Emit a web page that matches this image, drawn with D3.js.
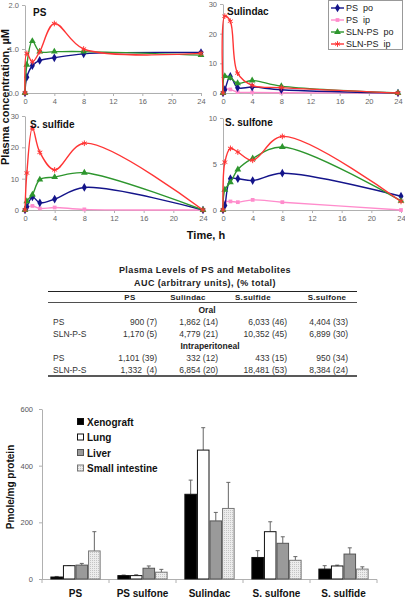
<!DOCTYPE html>
<html><head><meta charset="utf-8">
<script src="https://cdn.jsdelivr.net/npm/d3@7"></script>
<style>
html,body{margin:0;padding:0;background:#fff;}
svg{display:block;font-family:"Liberation Sans",Arial,sans-serif;}
</style></head>
<body><svg id="c" width="405" height="599"></svg>
<script>
// ---------- DATA ----------
const times = [0, 0.25, 1, 2, 4, 8, 24];
const seriesNames = ["PS  po", "PS  ip", "SLN-PS  po", "SLN-PS  ip"];
const xTicks = [0, 4, 8, 12, 16, 20, 24];
// Panel PS
const psPSpo   = [0, 0.36, 0.62, 0.74, 0.80, 0.89, 0.92];
const psPSip   = null;
const psSLNpo  = [0, 0.64, 1.18, 0.94, 0.94, 0.94, 0.86];
const psSLNip  = [0, 0.90, 0.71, 0.94, 1.58, 1.00, 0.90];
// Panel Sulindac
const suPSpo   = [0, 1.1, 5.6, 1.8, 2.0, 1.1, 0];
const suPSip   = [0, 1.4, 1.2, 0.3, 0.2, 0.1, 0];
const suSLNpo  = [0, 5.7, 5.1, 3.3, 4.2, 2.3, 0];
const suSLNip  = [0, 25.9, 24.2, 6.7, 2.6, 1.8, 0];
// Panel S. sulfide
const sdPSpo   = [0, 1.0, 4.2, 2.3, 3.5, 7.2, 0];
const sdPSip   = [0, 0.8, 1.3, 0.5, 0.8, 0.2, 0];
const sdSLNpo  = [0, 2.8, 4.9, 9.7, 10.5, 11.9, 0];
const sdSLNip  = [0, 11.8, 26.2, 18.4, 12.8, 21.3, 0];
// Panel S. sulfone
const snPSpo   = [0, 0.5, 3.4, 3.4, 3.2, 4.0, 1.5];
const snPSip   = [0, 0.85, 0.93, 0.85, 1.1, 0.85, 0];
const snSLNpo  = [0, 2.2, 3.0, 4.4, 5.6, 6.85, 1.0];
const snSLNip  = [0, 5.2, 6.7, 6.3, 5.4, 8.0, 0.93];
const panelTitles = ["PS", "Sulindac", "S. sulfide", "S. sulfone"];
const panelYTicks = [[0, 1, 2], [0, 10, 20, 30], [0, 10, 20, 30], [0, 5, 10]];

// Table
const tableTitle = "Plasma Levels of PS and Metabolites";
const tableSub = "AUC (arbitrary units), (% total)";
const aucCols = ["PS", "Sulindac", "S.sulfide", "S.sulfone"];
const rowLabels = ["PS", "SLN-P-S"];
const oralPS  = ["900 (7)", "1,862 (14)", "6,033 (46)", "4,404 (33)"];
const oralSLN = ["1,170 (5)", "4,779 (21)", "10,352 (45)", "6,899 (30)"];
const ipPS    = ["1,101 (39)", "332 (12)", "433 (15)", "950 (34)"];
const ipSLN   = ["1,332  (4)", "6,854 (20)", "18,481 (53)", "8,384 (24)"];

// Bar chart
const barCats = ["PS", "PS sulfone", "Sulindac", "S. sulfone", "S. sulfide"];
const tissues = ["Xenograft", "Lung", "Liver", "Small intestine"];
const xenograft    = [7, 12, 299, 76, 35];
const xenograftErr = [9, 14, 349, 100, 47];
const lung         = [47, 12, 455, 167, 46];
const lungErr      = [47, 15, 534, 202, 49];
const liver        = [49, 38, 205, 126, 88];
const liverErr     = [55, 46, 235, 149, 110];
const smallInt     = [99, 24, 249, 66, 35];
const smallIntErr  = [167, 34, 341, 79, 43];
const barYTicks = [0, 200, 400, 600];

// ---------- DRAW ----------
const svg = d3.select("#c");
const colors = ["#14148a", "#ff8ccc", "#2e962e", "#ff3535"];
const symbols = [d3.symbolDiamond, d3.symbolSquare, d3.symbolTriangle, d3.symbolAsterisk];
const symSizes = [22, 14, 20, 22];

function marker(g, i, cx, cy) {
  const p = g.append("path")
    .attr("d", d3.symbol().type(symbols[i]).size(symSizes[i])())
    .attr("transform", `translate(${cx},${cy})`);
  if (i === 3) p.attr("fill", "none").attr("stroke", colors[i]).attr("stroke-width", 1);
  else p.attr("fill", colors[i]).attr("stroke", "none");
}

const panels = [
  {data: [psPSpo, psPSip, psSLNpo, psSLNip], xr: [25, 201], yr: [93, 5], ymax: 2},
  {data: [suPSpo, suPSip, suSLNpo, suSLNip], xr: [223, 398], yr: [93, 4], ymax: 30},
  {data: [sdPSpo, sdPSip, sdSLNpo, sdSLNip], xr: [25, 203], yr: [210, 116], ymax: 30},
  {data: [snPSpo, snPSip, snSLNpo, snSLNip], xr: [223, 401], yr: [210, 118], ymax: 10}
];
const titlePos = [[33, 16], [227, 15], [30, 128], [225, 126]];

panels.forEach((p, pi) => {
  const x = d3.scaleLinear().domain([0, 24]).range(p.xr);
  const y = d3.scaleLinear().domain([0, p.ymax]).range(p.yr);
  const g = svg.append("g");
  const ax = g.append("g").attr("transform", `translate(0,${p.yr[0]})`)
    .call(d3.axisBottom(x).tickValues(xTicks).tickSize(3).tickSizeOuter(0).tickPadding(3));
  const ay = g.append("g").attr("transform", `translate(${p.xr[0]},0)`)
    .call(d3.axisLeft(y).tickValues(panelYTicks[pi]).tickSize(3).tickSizeOuter(0).tickPadding(3));
  [ax, ay].forEach(a => {
    a.select(".domain").attr("stroke", "#b0b0b0");
    a.selectAll(".tick line").attr("stroke", "#b0b0b0");
    a.selectAll("text").attr("fill", "#666").attr("font-size", 7.5)
      .attr("font-family", "'Liberation Sans',Arial,sans-serif");
  });
  const line = d3.line().x(d => x(d[0])).y(d => y(d[1])).curve(d3.curveCatmullRom.alpha(0.5));
  [1, 0, 2, 3].forEach(si => {
    const vals = p.data[si];
    if (!vals) return;
    const pts = times.map((t, k) => [t, vals[k]]);
    g.append("path").attr("d", line(pts)).attr("fill", "none")
      .attr("stroke", colors[si]).attr("stroke-width", 1.4);
    pts.forEach(d => marker(g, si, x(d[0]), y(d[1])));
  });
  g.append("text").attr("x", titlePos[pi][0]).attr("y", titlePos[pi][1])
    .attr("font-size", 10).attr("font-weight", "bold").attr("fill", "#111").text(panelTitles[pi]);
});

// Legend
const lg = svg.append("g");
lg.append("rect").attr("x", 328.5).attr("y", 0.5).attr("width", 74).attr("height", 49)
  .attr("fill", "#fff").attr("stroke", "#999").attr("stroke-width", 1);
seriesNames.forEach((n, i) => {
  const yy = 8 + i * 12;
  lg.append("line").attr("x1", 331).attr("x2", 344).attr("y1", yy).attr("y2", yy)
    .attr("stroke", colors[i]).attr("stroke-width", 1.4);
  marker(lg, i, 337.5, yy);
  lg.append("text").attr("x", 346).attr("y", yy + 3.2).attr("font-size", 9)
    .attr("fill", "#222").attr("xml:space", "preserve").style("white-space", "pre").text(n);
});

// axis titles
svg.append("text").attr("transform", "translate(9,97) rotate(-90)").attr("text-anchor", "middle")
  .attr("font-size", 11).attr("font-weight", "bold").attr("fill", "#111").text("Plasma concentration, µM");
svg.append("text").attr("x", 206).attr("y", 239).attr("text-anchor", "middle")
  .attr("font-size", 11).attr("font-weight", "bold").attr("fill", "#111").text("Time, h");

// ---------- TABLE ----------
const tg = svg.append("g").attr("fill", "#222");
tg.append("text").attr("x", 205).attr("y", 273).attr("text-anchor", "middle")
  .attr("font-size", 9).attr("font-weight", "bold").attr("letter-spacing", 0.4).text(tableTitle);
tg.append("text").attr("x", 205).attr("y", 286).attr("text-anchor", "middle")
  .attr("font-size", 9).attr("font-weight", "bold").attr("letter-spacing", 0.4).text(tableSub);
const tl = 48, tr = 357;
tg.append("line").attr("x1", tl).attr("x2", tr).attr("y1", 291.5).attr("y2", 291.5).attr("stroke", "#222").attr("stroke-width", 1);
tg.append("line").attr("x1", tl).attr("x2", tr).attr("y1", 302.5).attr("y2", 302.5).attr("stroke", "#222").attr("stroke-width", 0.8);
tg.append("line").attr("x1", tl).attr("x2", tr).attr("y1", 376).attr("y2", 376).attr("stroke", "#222").attr("stroke-width", 1.3);
const colCenter = [130, 188, 253, 327];
const colRight = [157, 218, 287, 348];
aucCols.forEach((c, i) => {
  tg.append("text").attr("x", colCenter[i]).attr("y", 300).attr("text-anchor", "middle")
    .attr("font-size", 8).attr("font-weight", "bold").attr("letter-spacing", 0.3).text(c);
});
tg.append("text").attr("x", 207).attr("y", 313).attr("text-anchor", "middle")
  .attr("font-size", 8.5).attr("font-weight", "bold").text("Oral");
tg.append("text").attr("x", 210).attr("y", 349).attr("text-anchor", "middle")
  .attr("font-size", 8.5).attr("font-weight", "bold").text("Intraperitoneal");
const tableRows = [[rowLabels[0], oralPS, 325], [rowLabels[1], oralSLN, 337], [rowLabels[0], ipPS, 361], [rowLabels[1], ipSLN, 373]];
tableRows.forEach(r => {
  tg.append("text").attr("x", 53).attr("y", r[2]).attr("font-size", 8.5).attr("fill", "#333").text(r[0]);
  r[1].forEach((v, i) => {
    tg.append("text").attr("x", colRight[i]).attr("y", r[2]).attr("text-anchor", "end")
      .attr("font-size", 8.5).attr("fill", "#333").style("white-space", "pre").text(v);
  });
});

// ---------- BAR CHART ----------
const defs = svg.append("defs");
const pat = defs.append("pattern").attr("id", "dots").attr("patternUnits", "userSpaceOnUse")
  .attr("width", 2).attr("height", 2);
pat.append("rect").attr("width", 2).attr("height", 2).attr("fill", "#ececec");
pat.append("rect").attr("width", 1).attr("height", 1).attr("fill", "#c4c4c4");
const fills = ["#000", "#fff", "#9a9a9a", "url(#dots)"];
const strokes = ["#111", "#111", "#555", "#777"];
const series = [xenograft, lung, liver, smallInt];
const errs = [xenograftErr, lungErr, liverErr, smallIntErr];

const bx = d3.scaleBand().domain(barCats).range([42, 377]);
const bsub = d3.scaleBand().domain(tissues).range([0, bx.bandwidth() * 0.75]);
const by = d3.scaleLinear().domain([0, 600]).range([579, 409]);
const bg = svg.append("g");
const bay = bg.append("g").attr("transform", "translate(42,0)")
  .call(d3.axisLeft(by).tickValues(barYTicks).tickSize(3).tickSizeOuter(0).tickPadding(6));
bay.select(".domain").attr("stroke", "#b0b0b0");
bay.selectAll(".tick line").attr("stroke", "#b0b0b0");
bay.selectAll("text").attr("fill", "#555").attr("font-size", 7.5).attr("font-family", "'Liberation Sans',Arial,sans-serif");
bg.append("line").attr("x1", 42).attr("x2", 377).attr("y1", 579.5).attr("y2", 579.5).attr("stroke", "#b0b0b0");
barCats.forEach((c, ci) => {
  const edge = bx(c);
  bg.append("line").attr("x1", edge).attr("x2", edge).attr("y1", 579.5).attr("y2", 583).attr("stroke", "#b0b0b0");
  if (ci === barCats.length - 1) {
    const e2 = edge + bx.bandwidth();
    bg.append("line").attr("x1", e2).attr("x2", e2).attr("y1", 579.5).attr("y2", 583).attr("stroke", "#b0b0b0");
  }
  bg.append("text").attr("x", edge + bx.bandwidth() / 2).attr("y", 597).attr("text-anchor", "middle")
    .attr("font-size", 10).attr("font-weight", "bold").attr("fill", "#111").text(c);
});
const off = bx.bandwidth() * 0.125;
series.forEach((s, si) => {
  s.forEach((v, ci) => {
    const x0 = bx(barCats[ci]) + off + bsub(tissues[si]);
    const w = bsub.bandwidth();
    const cx = x0 + w / 2;
    bg.append("line").attr("x1", cx).attr("x2", cx).attr("y1", by(v)).attr("y2", by(errs[si][ci]))
      .attr("stroke", "#666").attr("stroke-width", 1);
    bg.append("line").attr("x1", cx - 2).attr("x2", cx + 2).attr("y1", by(errs[si][ci])).attr("y2", by(errs[si][ci]))
      .attr("stroke", "#666").attr("stroke-width", 1);
    bg.append("rect").attr("x", x0 + 0.5).attr("y", by(v)).attr("width", w - 1).attr("height", by(0) - by(v))
      .attr("fill", fills[si]).attr("stroke", strokes[si]).attr("stroke-width", 1);
  });
});
// bar legend
tissues.forEach((t, i) => {
  const yy = 422 + i * 15.5;
  bg.append("rect").attr("x", 77.5).attr("y", yy - 3.5).attr("width", 6).attr("height", 6)
    .attr("fill", fills[i]).attr("stroke", strokes[i]).attr("stroke-width", 1);
  bg.append("text").attr("x", 87).attr("y", yy + 3.5).attr("font-size", 10).attr("font-weight", "bold")
    .attr("fill", "#111").text(t);
});
svg.append("text").attr("transform", "translate(14,487) rotate(-90)").attr("text-anchor", "middle")
  .attr("font-size", 10).attr("font-weight", "bold").attr("fill", "#111").text("Pmole/mg protein");
</script></body></html>
